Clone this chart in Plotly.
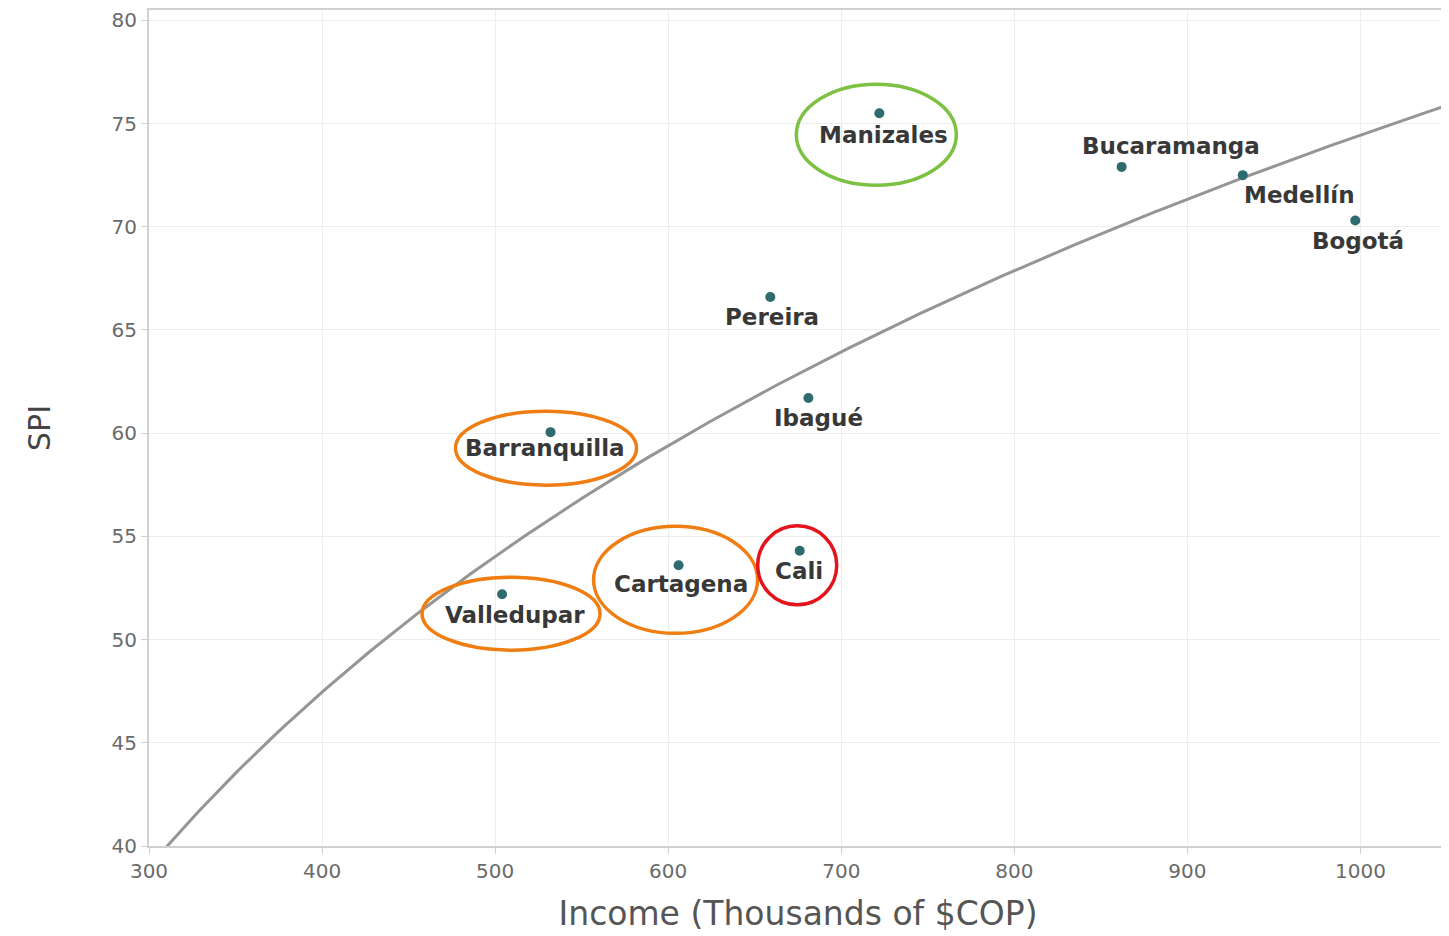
import numpy as np
import plotly.graph_objects as go

# ---- data ----
cities = ["Manizales", "Bucaramanga", "Medellín", "Bogotá", "Pereira",
          "Ibagué", "Barranquilla", "Cartagena", "Cali", "Valledupar"]
income = [722, 862, 932, 997, 659, 681, 532, 606, 676, 504]
spi = [75.5, 72.9, 72.5, 70.3, 66.6, 61.7, 60.05, 53.6, 54.3, 52.2]

x_ticks = [300, 400, 500, 600, 700, 800, 900, 1000]
y_ticks = [40, 45, 50, 55, 60, 65, 70, 75, 80]

# ---- styling (label offsets in px, highlight ellipses in px) ----
label_shift = {
    "Manizales": (4, -22), "Bucaramanga": (49, 21), "Medellín": (57, -20),
    "Bogotá": (3, -20), "Pereira": (2, -20), "Ibagué": (10, -20),
    "Barranquilla": (-6, -16), "Cartagena": (2, -19), "Cali": (-1, -20),
    "Valledupar": (13, -21),
}
highlights = {
    # city: (color, left, right, down, up) in pixels relative to the point
    "Manizales": ("#7dc143", -83, 77, -72, 29),
    "Barranquilla": ("#ef7d12", -95, 86, -53, 21),
    "Cartagena": ("#ef7d12", -85, 79, -68, 39),
    "Valledupar": ("#ef7d12", -80, 98, -56, 17),
    "Cali": ("#e3141c", -42, 37, -54, 25),
}

# logarithmic trend fitted to the data
b, a = np.polyfit(np.log(income), spi, 1)
xs = np.linspace(285, 1050, 200)
ys = a + b * np.log(xs)

fig = go.Figure()
fig.add_trace(go.Scatter(x=xs, y=ys, mode="lines",
                         line=dict(color="#959595", width=3),
                         hoverinfo="skip", showlegend=False))
fig.add_trace(go.Scatter(x=income, y=spi, mode="markers",
                         marker=dict(color="#2e6b6f", size=10),
                         text=cities, showlegend=False))

for c, xv, yv in zip(cities, income, spi):
    dx, dy = label_shift[c]
    fig.add_annotation(x=xv, y=yv, text=c, showarrow=False,
                       xshift=dx, yshift=dy,
                       font=dict(family="DejaVu Sans", size=23, color="#383838",
                                 weight="bold"))

for c, (col, x0, x1, y0, y1) in highlights.items():
    i = cities.index(c)
    fig.add_shape(type="circle", xref="x", yref="y",
                  xsizemode="pixel", ysizemode="pixel",
                  xanchor=income[i], yanchor=spi[i],
                  x0=x0, x1=x1, y0=y0, y1=y1,
                  line=dict(color=col, width=3.5))

axis_common = dict(showgrid=True, gridcolor="#ededed", gridwidth=1,
                   showline=True, linecolor="#d0d0d0", linewidth=2, mirror=True,
                   ticks="outside", tickcolor="#d0d0d0", ticklen=6,
                   zeroline=False,
                   tickfont=dict(family="DejaVu Sans", size=20, color="#6a6a6a"))

fig.update_xaxes(range=[300, 1050], tickvals=x_ticks,
                 title=dict(text="Income (Thousands of $COP)", standoff=20,
                            font=dict(family="DejaVu Sans", size=33, color="#555555")),
                 **axis_common)
fig.update_yaxes(range=[40, 80.5], tickvals=y_ticks,
                 title=dict(text="SPI", standoff=52,
                            font=dict(family="DejaVu Sans", size=30, color="#444444")),
                 **axis_common)

fig.update_layout(width=1441, height=928,
                  margin=dict(l=141, r=2, t=2, b=90, autoexpand=False),
                  paper_bgcolor="white", plot_bgcolor="white")

fig.write_html("out.html")
